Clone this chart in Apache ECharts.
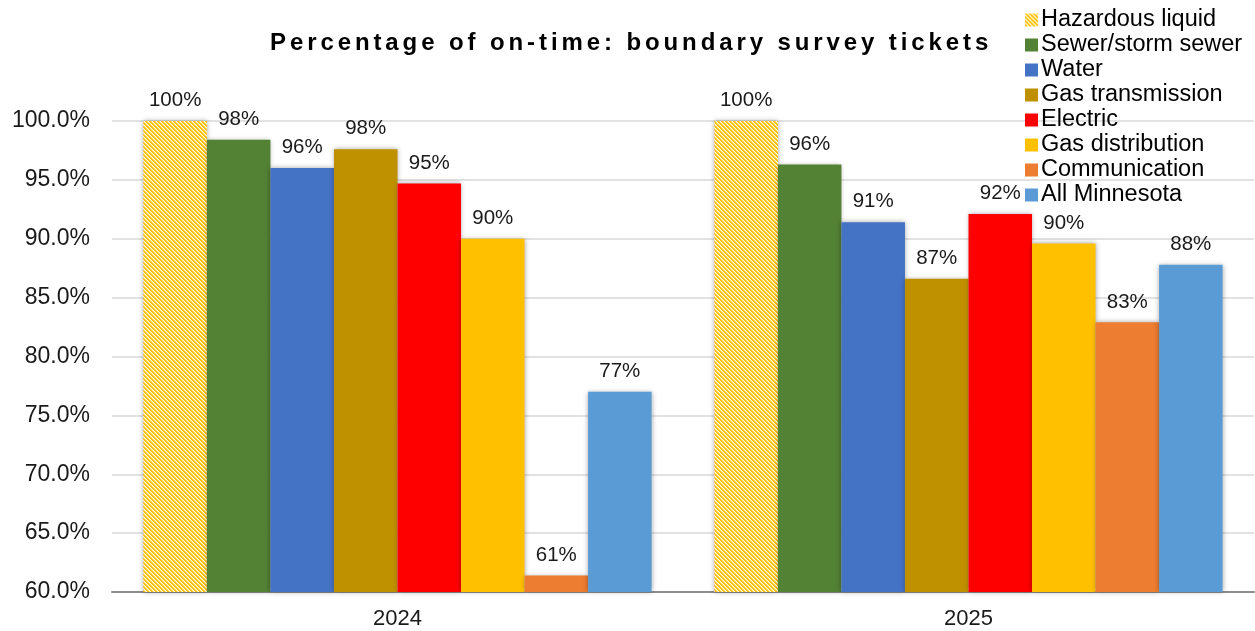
<!DOCTYPE html>
<html>
<head>
<meta charset="utf-8">
<script src="https://cdn.jsdelivr.net/npm/echarts@6/dist/echarts.min.js"></script>
<style>
  html, body { margin: 0; padding: 0; background: #fff; }
  #chart { width: 1255px; height: 631px; }
</style>
</head>
<body>
<div id="chart"></div>
<script>
// Ticket on-time rates by facility type, per year
const years = ['2024', '2025'];
const seriesNames = ['Hazardous liquid', 'Sewer/storm sewer', 'Water', 'Gas transmission',
  'Electric', 'Gas distribution', 'Communication', 'All Minnesota'];
const hazardousLiquid = [100.0, 100.0];
const sewerStormSewer = [98.4, 96.3];
const water = [96.0, 91.4];
const gasTransmission = [97.6, 86.6];
const electric = [94.7, 92.1];
const gasDistribution = [90.0, 89.6];
const communication = [61.4, 82.9];
const allMinnesota = [77.0, 87.8];
const yTicks = [60, 65, 70, 75, 80, 85, 90, 95, 100];
const titleText = 'Percentage of on-time: boundary survey tickets';

const seriesValues = [hazardousLiquid, sewerStormSewer, water, gasTransmission,
  electric, gasDistribution, communication, allMinnesota];
const colors = [null, '#548235', '#4472C4', '#BF9000', '#FF0000', '#FFC000', '#ED7D31', '#5B9BD5'];

// Diagonal yellow/white stripe fill
function stripeCanvas() {
  const c = document.createElement('canvas');
  c.width = 8; c.height = 8;
  const ctx = c.getContext('2d');
  const img = ctx.createImageData(8, 8);
  for (let y = 0; y < 8; y++) {
    for (let x = 0; x < 8; x++) {
      const k = ((x - y) % 4 + 4) % 4;
      const i = (y * 8 + x) * 4;
      let rgb;
      if (k < 2) rgb = [255, 192, 0];
      else if (k === 2) rgb = [255, 225, 120];
      else rgb = [255, 255, 255];
      img.data[i] = rgb[0]; img.data[i + 1] = rgb[1]; img.data[i + 2] = rgb[2];
      img.data[i + 3] = 255;
    }
  }
  ctx.putImageData(img, 0, 0);
  return c;
}
const stripe = { image: stripeCanvas(), repeat: 'repeat' };

// Spaced-out lettering for the heading
const origFill = CanvasRenderingContext2D.prototype.fillText;
CanvasRenderingContext2D.prototype.fillText = function (t, x, y, w) {
  if (t === titleText && 'letterSpacing' in this) {
    const prev = this.letterSpacing;
    this.letterSpacing = '3.9px';
    const r = origFill.call(this, t, x, y, w);
    this.letterSpacing = prev;
    return r;
  }
  return origFill.call(this, t, x, y, w);
};

const chart = echarts.init(document.getElementById('chart'));
const font = 'Arial, "Liberation Sans", sans-serif';

const series = seriesNames.map((name, i) => ({
  name: name,
  type: 'bar',
  data: seriesValues[i],
  barGap: '0%',
  barCategoryGap: '11%',
  itemStyle: {
    color: i === 0 ? stripe : colors[i],
    shadowBlur: 5,
    shadowColor: 'rgba(0,0,0,0.35)'
  },
  label: {
    show: true,
    position: 'top',
    distance: 10,
    fontFamily: font,
    fontSize: 20.5,
    color: '#1a1a1a',
    formatter: p => Math.round(p.value) + '%'
  }
}));

chart.setOption({
  animation: false,
  textStyle: { fontFamily: font },
  title: {
    text: titleText,
    left: 265,
    top: 26,
    textStyle: { fontFamily: font, fontSize: 24, fontWeight: 'bold', color: '#000' }
  },
  legend: {
    orient: 'vertical',
    left: 1020,
    top: 3,
    itemWidth: 13,
    itemHeight: 13,
    itemGap: 1,
    icon: 'rect',
    textStyle: { fontFamily: font, fontSize: 23.5, color: '#000', padding: [0, 0, 0, -2] },
    data: seriesNames
  },
  grid: { left: 112, right: 1, top: 121, bottom: 39, containLabel: false },
  xAxis: {
    type: 'category',
    data: years,
    axisTick: { show: false },
    axisLine: { lineStyle: { color: '#8c8c8c', width: 2 } },
    axisLabel: { fontFamily: font, fontSize: 22, color: '#1a1a1a', margin: 16 }
  },
  yAxis: {
    type: 'value',
    min: yTicks[0],
    max: yTicks[yTicks.length - 1],
    interval: yTicks[1] - yTicks[0],
    axisLine: { show: false },
    axisTick: { show: false },
    splitLine: { lineStyle: { color: '#d9d9d9', width: 1.5 } },
    axisLabel: {
      fontFamily: font, fontSize: 23, color: '#1a1a1a', margin: 22,
      formatter: v => v.toFixed(1) + '%'
    }
  },
  series: series
});
</script>
</body>
</html>
